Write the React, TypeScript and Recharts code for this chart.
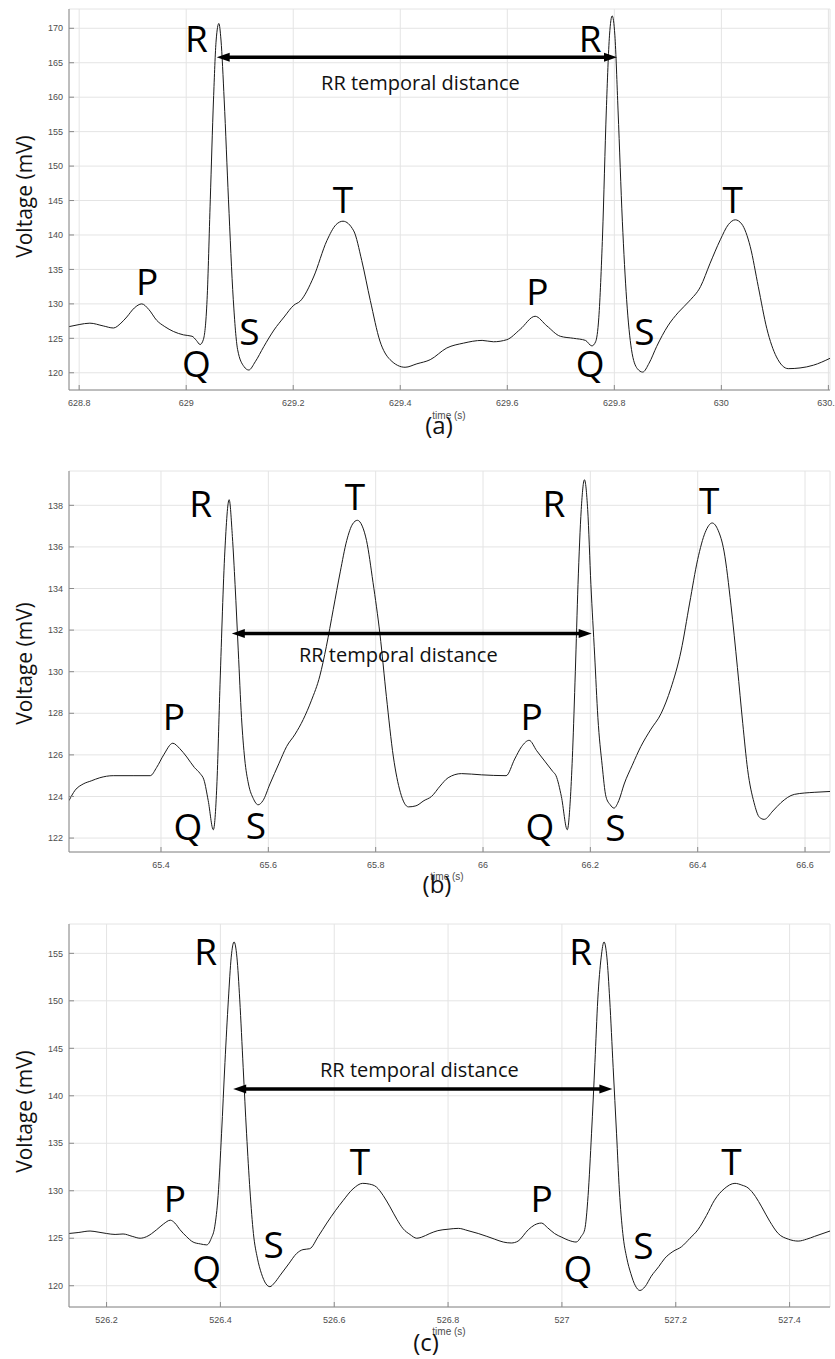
import React from "react";
import {
  CartesianGrid,
  Line,
  LineChart,
  ReferenceDot,
  ReferenceLine,
  XAxis,
  YAxis,
} from "recharts";

// ---- panel (a) ----
const aTime = [
  628.781, 628.8, 628.82, 628.845, 628.864, 628.878, 628.889, 628.903, 628.917, 628.93,
  628.945, 628.96, 628.976, 628.995, 629.011, 629.019, 629.026, 629.032, 629.039, 629.045,
  629.051, 629.056, 629.061, 629.065, 629.071, 629.079, 629.088, 629.096, 629.108, 629.117,
  629.129, 629.145, 629.164, 629.183, 629.201, 629.213, 629.238, 629.263, 629.28, 629.293,
  629.313, 629.328, 629.344, 629.362, 629.381, 629.409, 629.431, 629.456, 629.487, 629.518,
  629.553, 629.574, 629.599, 629.624, 629.652, 629.674, 629.699, 629.724, 629.746, 629.758,
  629.765, 629.771, 629.778, 629.785, 629.791, 629.796, 629.801, 629.807, 629.815, 629.823,
  629.832, 629.843, 629.853, 629.865, 629.879, 629.9, 629.92, 629.94, 629.961, 629.979,
  629.998, 630.013, 630.026, 630.038, 630.054, 630.069, 630.085, 630.103, 630.125, 630.147,
  630.172, 630.203,
];
const aVolt = [
  126.7, 127.0, 127.2, 126.8, 126.5, 127.2, 128.1, 129.4, 130.0, 129.2,
  127.6, 126.7, 126.0, 125.5, 125.3, 124.7, 124.1, 124.8, 130.6, 145.1,
  159.6, 168.3, 170.7, 168.3, 159.6, 145.1, 130.6, 123.4, 120.9, 120.4,
  121.6, 123.8, 126.2, 128.1, 129.8, 130.4, 133.9, 139.2, 141.5, 142.0,
  140.6, 136.3, 130.5, 124.6, 121.9, 120.8, 121.3, 121.9, 123.6, 124.3,
  124.7, 124.5, 124.8, 126.3, 128.2, 126.8, 125.3, 125.0, 124.7, 123.9,
  124.5, 128.0, 140.0, 158.0, 169.0, 171.8, 169.0, 158.0, 142.0, 130.6,
  123.4, 120.6, 120.1, 121.4, 123.8, 126.8, 128.8, 130.4, 132.5, 135.9,
  139.3, 141.5, 142.2, 141.6, 138.3, 132.5, 126.4, 122.3, 120.6, 120.7,
  121.1, 122.1,
];
const aXTicks = [628.8, 629, 629.2, 629.4, 629.6, 629.8, 630, 630.2];
const aYTicks = [120, 125, 130, 135, 140, 145, 150, 155, 160, 165, 170];
const aWaves = ["P", "Q", "R", "S", "T", "P", "Q", "R", "S", "T"];
const aWaveT = [628.927, 629.019, 629.019, 629.118, 629.293, 629.656, 629.755, 629.755, 629.856, 630.021];
const aWaveV = [131.3, 119.4, 166.6, 124.0, 143.2, 129.8, 119.4, 166.6, 124.0, 143.2];
const aRR = [629.057, 629.805, 165.8];
const aRRText = [629.252, 161.1];

// ---- panel (b) ----
const bTime = [
  65.2286, 65.24, 65.255, 65.27, 65.286, 65.311, 65.348, 65.38, 65.392, 65.405,
  65.422, 65.435, 65.448, 65.462, 65.473, 65.48, 65.488, 65.4975, 65.504, 65.51,
  65.519, 65.527, 65.533, 65.538, 65.544, 65.55, 65.556, 65.563, 65.572, 65.581,
  65.59, 65.603, 65.62, 65.634, 65.65, 65.665, 65.68, 65.696, 65.708, 65.721,
  65.734, 65.746, 65.757, 65.766, 65.775, 65.783, 65.795, 65.808, 65.82, 65.833,
  65.846, 65.861, 65.875, 65.89, 65.904, 65.92, 65.935, 65.96, 65.997, 66.043,
  66.059, 66.072, 66.086, 66.1, 66.115, 66.13, 66.136, 66.146, 66.157, 66.163,
  66.167, 66.172, 66.177, 66.183, 66.189, 66.195, 66.201, 66.208, 66.214, 66.222,
  66.229, 66.237, 66.244, 66.253, 66.263, 66.278, 66.294, 66.312, 66.332, 66.35,
  66.369, 66.385, 66.4, 66.414, 66.427, 66.438, 66.449, 66.462, 66.474, 66.484,
  66.493, 66.505, 66.515, 66.524, 66.54, 66.555, 66.58, 66.617, 66.6465,
];
const bVolt = [
  123.8, 124.3, 124.6, 124.75, 124.9, 125.0, 125.0, 125.0, 125.4, 126.0,
  126.56, 126.3, 125.9, 125.4, 125.1, 124.8, 123.8, 122.4, 124.5, 129.4,
  135.8, 138.27, 136.5, 134.2, 131.0, 127.8, 125.8, 124.6, 123.9, 123.6,
  123.8, 124.6, 125.6, 126.4, 127.0, 127.7, 128.6, 129.8, 131.2, 133.0,
  134.8, 136.3, 137.1, 137.28, 137.0, 136.3, 134.3, 131.8, 128.8, 125.9,
  124.2, 123.5, 123.55, 123.8, 124.0, 124.5, 124.9, 125.1, 125.04, 125.0,
  125.8, 126.4, 126.7, 126.2, 125.7, 125.2, 125.0, 124.0, 122.4, 124.0,
  126.2, 130.0, 134.2, 137.8, 139.23, 137.8, 134.2, 130.8, 127.8, 125.5,
  124.0, 123.6, 123.44, 123.8, 124.6, 125.5, 126.4, 127.2, 128.0, 129.2,
  131.0, 133.3, 135.4, 136.7, 137.15, 136.8, 135.8, 133.2, 130.2, 127.5,
  125.3, 123.7, 123.0, 122.9, 123.3, 123.7, 124.1, 124.2, 124.24,
];
const bXTicks = [65.4, 65.6, 65.8, 66, 66.2, 66.4, 66.6];
const bYTicks = [122, 124, 126, 128, 130, 132, 134, 136, 138];
const bWaves = ["P", "Q", "R", "S", "T", "P", "Q", "R", "S", "T"];
const bWaveT = [65.424, 65.45, 65.474, 65.577, 65.7615, 66.0907, 66.106, 66.132, 66.2465, 66.4216];
const bWaveV = [127.2, 121.92, 137.44, 121.95, 137.76, 127.2, 121.92, 137.44, 121.88, 137.6];
const bRR = [65.532, 66.2025, 131.84];
const bRRText = [65.657, 130.48];

// ---- panel (c) ----
const cTime = [
  526.134, 526.15, 526.171, 526.185, 526.2, 526.215, 526.229, 526.245, 526.259, 526.27,
  526.288, 526.3, 526.312, 526.32, 526.329, 526.34, 526.352, 526.365, 526.376, 526.384,
  526.39, 526.396, 526.402, 526.408, 526.414, 526.419, 526.424, 526.429, 526.434, 526.44,
  526.446, 526.452, 526.458, 526.465, 526.472, 526.48, 526.487, 526.495, 526.505, 526.52,
  526.534, 526.545, 526.557, 526.572, 526.587, 526.602, 526.616, 526.633, 526.65, 526.662,
  526.674, 526.686, 526.698, 526.71, 526.721, 526.733, 526.745, 526.753, 526.768, 526.782,
  526.8, 526.818, 526.835, 526.853, 526.868, 526.882, 526.897, 526.911, 526.923, 526.941,
  526.952, 526.964, 526.975, 526.987, 527.0, 527.011, 527.025, 527.034, 527.04, 527.046,
  527.052, 527.058, 527.063, 527.069, 527.074, 527.079, 527.084, 527.09, 527.096, 527.101,
  527.107, 527.114, 527.121, 527.129, 527.137, 527.146, 527.157, 527.17, 527.181, 527.195,
  527.21, 527.225, 527.239, 527.254, 527.268, 527.285, 527.304, 527.316, 527.327, 527.34,
  527.351, 527.365, 527.38, 527.398, 527.415, 527.43, 527.444, 527.471,
];
const cVolt = [
  125.5, 125.6, 125.76, 125.65, 125.5, 125.4, 125.45, 125.2, 125.0, 125.16,
  125.9, 126.5, 126.9, 126.6, 125.9, 125.2, 124.6, 124.4, 124.3, 125.0,
  126.2, 129.5, 136.0, 143.5, 150.1, 154.6, 156.2, 154.6, 150.1, 143.0,
  136.0, 130.0, 125.5, 122.9, 121.3, 120.2, 119.9, 120.3, 121.1, 122.3,
  123.4, 123.8, 123.9, 125.2, 126.6, 127.9, 129.0, 130.2, 130.78, 130.7,
  130.4, 129.5, 128.3, 127.0, 126.0, 125.4, 125.0, 125.1, 125.5, 125.8,
  125.95, 126.04, 125.8, 125.5, 125.2, 124.9, 124.6, 124.5, 124.7, 125.9,
  126.4, 126.6, 126.1, 125.5, 125.1, 124.8, 124.6, 125.2, 125.9, 129.5,
  136.0, 143.5, 150.1, 154.6, 156.2, 154.6, 150.1, 143.0, 136.0, 130.0,
  125.5, 122.9, 121.3, 120.0, 119.5, 119.9, 121.0, 122.0, 122.9, 123.6,
  124.1, 125.0, 125.9, 127.4, 129.0, 130.2, 130.78, 130.6, 130.3, 129.4,
  128.3, 126.8, 125.5, 124.9, 124.7, 124.9, 125.2, 125.76,
];
const cXTicks = [526.2, 526.4, 526.6, 526.8, 527, 527.2, 527.4];
const cYTicks = [120, 125, 130, 135, 140, 145, 150, 155];
const cWaves = ["P", "Q", "R", "S", "T", "P", "Q", "R", "S", "T"];
const cWaveT = [526.32, 526.376, 526.374, 526.4935, 526.645, 526.9645, 527.028, 527.033, 527.143, 527.298];
const cWaveV = [127.79, 120.41, 153.77, 122.88, 131.65, 127.79, 120.41, 153.77, 122.77, 131.65];
const cRR = [526.4225, 527.0886, 140.71];
const cRRText = [526.575, 142.0];

const AXIS = "#8a8a8a";
const GRID = "#e4e4e4";
const TICK_FONT = "'Liberation Sans', Arial, sans-serif";
const NOTE_FONT = "'Open Sans', 'Noto Sans', sans-serif";
const X_AXIS_H = 52;

const panels = [
  {
    time: aTime, volt: aVolt, xTicks: aXTicks, yTicks: aYTicks,
    xDomain: [628.781, 630.203], yDomain: [117.5, 172.8],
    waves: aWaves, waveT: aWaveT, waveV: aWaveV, rr: aRR, rrText: aRRText,
    caption: "(a)", top: 0, plotH: 381, timeX: 380, timeDy: 29, capX: 370, capDy: 44, yLabDy: -3,
  },
  {
    time: bTime, volt: bVolt, xTicks: bXTicks, yTicks: bYTicks,
    xDomain: [65.2286, 66.6465], yDomain: [121.33, 139.65],
    waves: bWaves, waveT: bWaveT, waveV: bWaveV, rr: bRR, rrText: bRRText,
    caption: "(b)", top: 462, plotH: 381, timeX: 378, timeDy: 28, capX: 368, capDy: 41, yLabDy: 2,
  },
  {
    time: cTime, volt: cVolt, xTicks: cXTicks, yTicks: cYTicks,
    xDomain: [526.134, 527.471], yDomain: [117.76, 158.09],
    waves: cWaves, waveT: cWaveT, waveV: cWaveV, rr: cRR, rrText: cRRText,
    caption: "(c)", top: 915, plotH: 383, timeX: 380, timeDy: 28, capX: 357, capDy: 44, yLabDy: -4,
  },
];

function BottomTick({ x, y, payload }: any) {
  return (
    <g>
      <line x1={x} y1={y} x2={x} y2={y - 5} stroke={AXIS} />
      <text x={x} y={y + 16} textAnchor="middle" fontSize={9} fill="#4d4d4d" fontFamily={TICK_FONT}>
        {String(payload.value)}
      </text>
    </g>
  );
}

function LeftTick({ x, y, payload }: any) {
  return (
    <g>
      <line x1={x} y1={y} x2={x + 5} y2={y} stroke={AXIS} />
      <text x={x - 6} y={y + 3.2} textAnchor="end" fontSize={9} fill="#4d4d4d" fontFamily={TICK_FONT}>
        {String(payload.value)}
      </text>
    </g>
  );
}

function TopTick({ x, y }: any) {
  return <line x1={x} y1={y} x2={x} y2={y + 5} stroke={AXIS} />;
}

function RightTick({ x, y }: any) {
  return <line x1={x} y1={y} x2={x - 5} y2={y} stroke={AXIS} />;
}

function Arrow({ x1, y1, x2 }: any) {
  const left = Math.min(x1, x2);
  const right = Math.max(x1, x2);
  const y = y1;
  const hl = 13;
  const hw = 4.5;
  return (
    <g>
      <line x1={left + hl - 1} y1={y} x2={right - hl + 1} y2={y} stroke="#000" strokeWidth={3.5} />
      <polygon points={`${left},${y} ${left + hl},${y - hw} ${left + hl},${y + hw}`} fill="#000" />
      <polygon points={`${right},${y} ${right - hl},${y - hw} ${right - hl},${y + hw}`} fill="#000" />
    </g>
  );
}

function Panel({ p }: { p: (typeof panels)[number] }) {
  const data = p.time.map((t, i) => ({ t, v: p.volt[i] }));
  const height = 9 + p.plotH + X_AXIS_H;
  return (
    <div style={{ position: "absolute", left: 0, top: p.top }}>
      <LineChart width={835} height={height} data={data} margin={{ top: 9, right: 5, bottom: 0, left: 0 }}>
        <CartesianGrid stroke={GRID} />
        <XAxis
          dataKey="t"
          type="number"
          domain={p.xDomain}
          allowDataOverflow
          ticks={p.xTicks}
          interval={0}
          height={X_AXIS_H}
          tickSize={0}
          tickMargin={0}
          tickLine={false}
          axisLine={{ stroke: AXIS }}
          tick={<BottomTick />}
          label={(lp: any) => {
            const vb = lp.viewBox;
            return (
              <g>
                <text x={vb.x + p.timeX} y={vb.y + p.timeDy} textAnchor="middle" fontSize={10} fill="#4d4d4d" fontFamily={TICK_FONT}>
                  time (s)
                </text>
                <text x={vb.x + p.capX} y={vb.y + p.capDy} textAnchor="middle" fontSize={24} fill="#111" fontFamily={NOTE_FONT}>
                  {p.caption}
                </text>
              </g>
            );
          }}
        />
        <XAxis
          xAxisId="top"
          orientation="top"
          dataKey="t"
          type="number"
          domain={p.xDomain}
          allowDataOverflow
          ticks={p.xTicks}
          interval={0}
          height={0}
          tickSize={0}
          tickMargin={0}
          tickLine={false}
          axisLine={{ stroke: AXIS }}
          tick={<TopTick />}
        />
        <YAxis
          type="number"
          domain={p.yDomain}
          allowDataOverflow
          ticks={p.yTicks}
          interval={0}
          width={69}
          tickSize={0}
          tickMargin={0}
          tickLine={false}
          axisLine={{ stroke: AXIS }}
          tick={<LeftTick />}
          label={(lp: any) => {
            const vb = lp.viewBox;
            const cx = vb.x + 24;
            const cy = vb.y + vb.height / 2 + p.yLabDy;
            return (
              <text
                x={cx}
                y={cy}
                transform={`rotate(-90 ${cx} ${cy})`}
                textAnchor="middle"
                dominantBaseline="central"
                fontSize={21}
                fill="#111"
                fontFamily={NOTE_FONT}
              >
                Voltage (mV)
              </text>
            );
          }}
        />
        <YAxis
          yAxisId="right"
          orientation="right"
          type="number"
          domain={p.yDomain}
          allowDataOverflow
          ticks={p.yTicks}
          interval={0}
          width={0}
          tickSize={0}
          tickMargin={0}
          tickLine={false}
          axisLine={{ stroke: AXIS }}
          tick={<RightTick />}
        />
        <Line
          type="monotone"
          dataKey="v"
          stroke="#1a1a1a"
          strokeWidth={1}
          dot={false}
          isAnimationActive={false}
        />
        <ReferenceLine
          segment={[
            { x: p.rr[0], y: p.rr[2] },
            { x: p.rr[1], y: p.rr[2] },
          ]}
          shape={(lp: any) => <Arrow {...lp} />}
        />
        <ReferenceDot
          x={p.rrText[0]}
          y={p.rrText[1]}
          r={0}
          shape={(dp: any) => (
            <text x={dp.cx} y={dp.cy} textAnchor="start" fontSize={20} fill="#111" fontFamily={NOTE_FONT}>
              RR temporal distance
            </text>
          )}
        />
        {p.waves.map((w, i) => (
          <ReferenceDot
            key={`${w}-${i}`}
            x={p.waveT[i]}
            y={p.waveV[i]}
            r={0}
            shape={(dp: any) => (
              <text x={dp.cx} y={dp.cy} textAnchor="middle" fontSize={37} fill="#000" fontFamily={NOTE_FONT}>
                {w}
              </text>
            )}
          />
        ))}
      </LineChart>
    </div>
  );
}

export default function App() {
  return (
    <div
      style={{
        position: "absolute",
        left: 0,
        top: 0,
        width: 835,
        height: 1359,
        overflow: "hidden",
        background: "#fff",
      }}
    >
      {panels.map((p) => (
        <Panel key={p.caption} p={p} />
      ))}
    </div>
  );
}
